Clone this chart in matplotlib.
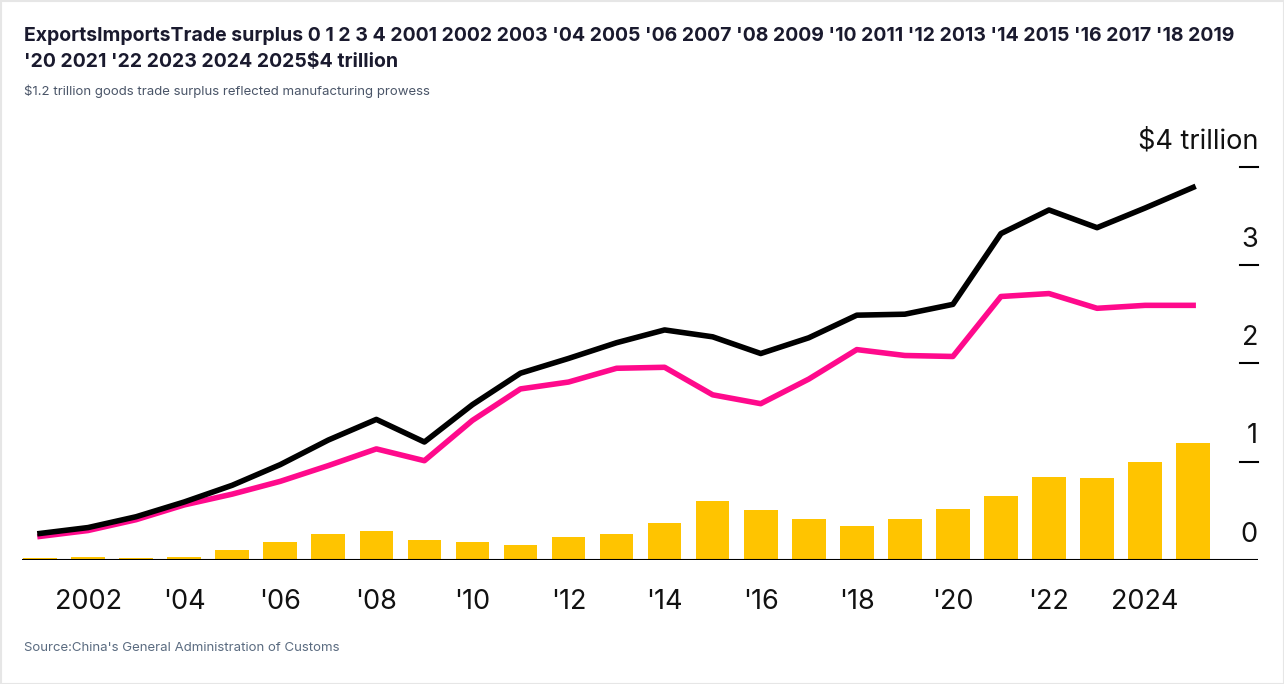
import matplotlib
matplotlib.use("Agg")
import matplotlib.pyplot as plt
import matplotlib.transforms as mtransforms

years = list(range(2001, 2026))
exports = [0.27,0.33,0.44,0.59,0.76,0.97,1.22,1.43,1.20,1.58,1.90,2.05,2.21,2.34,2.27,2.10,2.26,2.49,2.50,2.60,3.32,3.56,3.38,3.58,3.79]
imports = [0.24,0.30,0.41,0.56,0.67,0.80,0.96,1.13,1.01,1.42,1.74,1.81,1.95,1.96,1.68,1.59,1.84,2.14,2.08,2.07,2.68,2.71,2.56,2.59,2.59]
surplus = [0.02,0.03,0.02,0.03,0.10,0.18,0.26,0.30,0.20,0.18,0.15,0.23,0.26,0.38,0.60,0.51,0.42,0.35,0.42,0.52,0.65,0.84,0.83,1.00,1.19]
xticks = [2002,2004,2006,2008,2010,2012,2014,2016,2018,2020,2022,2024]
xlabels = ["2002","'04","'06","'08","'10","'12","'14","'16","'18","'20","'22","2024"]
yticks = [0,1,2,3,4]
ylabels = ["0","1","2","3","$4 trillion"]

plt.rcParams['font.family'] = ['Inter', 'DejaVu Sans']
W, H = 1284, 684
fig = plt.figure(figsize=(W/100, H/100), dpi=100)
fig.patches.append(plt.Rectangle((0.5/W, 0.5/H), 1-1/W, 1-1/H, transform=fig.transFigure,
                                 fill=False, edgecolor='#e6e6e6', lw=1.5))
ax = fig.add_axes([22/W, (H-560)/H, (1258-22)/W, (560-150)/H])
ax.bar(years, surplus, width=0.7, color='#ffc400', zorder=1)
ax.plot(years, imports, color='#ff0a8c', lw=4, zorder=2)
ax.plot(years, exports, color='black', lw=4, zorder=3)
ax.set_xlim(2000.625, 2026.35)
ax.set_ylim(0, 4.17)
for s in ax.spines.values():
    s.set_visible(False)
ax.axhline(0, color='black', lw=1.5, zorder=4)
ax.set_xticks(xticks, xlabels, fontsize=19.5, color='#111')
ax.tick_params(axis='x', length=0, pad=21)
ax.set_yticks([])
trans = mtransforms.blended_transform_factory(ax.transAxes, ax.transData)
for v, l in zip(yticks, ylabels):
    if v > 0:
        ax.plot([1-18/1236, 1.0], [v, v], color='black', lw=1.5, transform=trans, clip_on=False)
    ax.annotate(l, (1.0, v), xycoords=trans, xytext=(0, 9), textcoords='offset points',
                ha='right', va='bottom', fontsize=19.5, color='#111')
fig.text(24/W, 1-36/H, "ExportsImportsTrade surplus 0 1 2 3 4 2001 2002 2003 '04 2005 '06 2007 '08 2009 '10 2011 '12 2013 '14 2015 '16 2017 '18 2019",
         fontsize=14, fontweight='bold', color='#1a1a2e', va='center')
fig.text(24/W, 1-62/H, "'20 2021 '22 2023 2024 2025$4 trillion",
         fontsize=14, fontweight='bold', color='#1a1a2e', va='center')
fig.text(24/W, 1-91/H, "$1.2 trillion goods trade surplus reflected manufacturing prowess",
         fontsize=9.5, color='#4a5568', va='center')
fig.text(24/W, 1-648/H, "Source:China's General Administration of Customs",
         fontsize=9.5, color='#5a6b80', va='center')
fig.savefig("out.png", dpi=100)
